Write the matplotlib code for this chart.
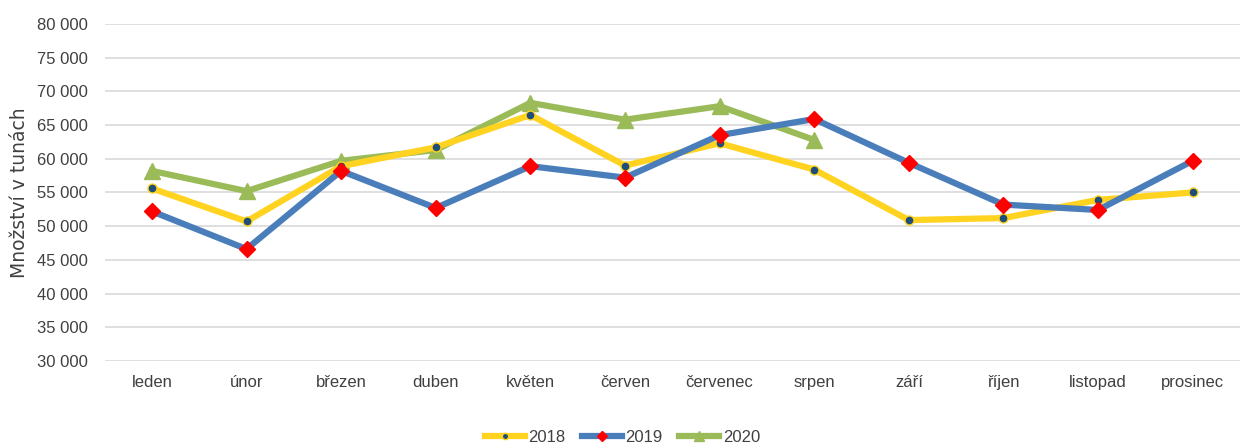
import matplotlib
matplotlib.use("Agg")
import matplotlib.pyplot as plt
from matplotlib.ticker import FuncFormatter

months = ["leden", "únor", "březen", "duben", "květen", "červen", "červenec",
          "srpen", "září", "říjen", "listopad", "prosinec"]
y2018 = [55600, 50700, 58900, 61700, 66500, 59000, 62300, 58400, 50900, 51200, 53900, 55000]
y2019 = [52200, 46600, 58200, 52700, 58900, 57200, 63500, 65900, 59400, 53200, 52400, 59700]
y2020 = [58200, 55200, 59700, 61300, 68300, 65800, 67800, 62800]
labels = ["2018", "2019", "2020"]

narrow = ["Liberation Sans Narrow", "Liberation Sans", "DejaVu Sans"]

fig = plt.figure(figsize=(12.45, 4.45), dpi=100)
ax = fig.add_axes([0.084, 0.189, 0.912, 0.757])

x = list(range(len(months)))
ax.plot(x, y2018, color="#FFD320", lw=4.5, marker="o", ms=6.5,
        mfc="#1F4E79", mec="#FFD320", mew=1, label=labels[0], zorder=3)
ax.plot(x, y2019, color="#4A7EBB", lw=4.5, marker="D", ms=8,
        mfc="#FF0000", mec="#FF0000", label=labels[1], zorder=4)
ax.plot(x[:len(y2020)], y2020, color="#9BBB59", lw=4.5, marker="^", ms=11,
        mfc="#9BBB59", mec="#9BBB59", label=labels[2], zorder=2)

ax.set_xlim(-0.5, len(months) - 0.5)
ax.set_ylim(30000, 80000)
ax.set_yticks(range(30000, 80001, 5000))
ax.yaxis.set_major_formatter(FuncFormatter(lambda v, p: f"{int(v):,}".replace(",", " ")))
ax.set_xticks(x)
ax.set_xticklabels(months)
for t in ax.get_xticklabels() + ax.get_yticklabels():
    t.set_family(narrow)
    t.set_fontsize(12)
    t.set_color("#404040")
ax.tick_params(length=0, pad=10)
ax.tick_params(axis="y", pad=12)
ax.grid(axis="y", color="#D9D9D9", lw=1.2)
ax.set_axisbelow(True)
for s in ax.spines.values():
    s.set_visible(False)

ax.set_ylabel("Množství v tunách", fontsize=13.5, family="DejaVu Sans",
              color="#404040", labelpad=6)

leg = fig.legend(loc="lower center", bbox_to_anchor=(0.5, -0.018), ncol=3, frameon=False,
                 prop={"family": narrow, "size": 12}, handlelength=2.4, columnspacing=1.0,
                 handletextpad=0.2, markerscale=0.7, borderaxespad=0.1)
for t in leg.get_texts():
    t.set_color("#404040")

fig.savefig("out.png", dpi=100)
